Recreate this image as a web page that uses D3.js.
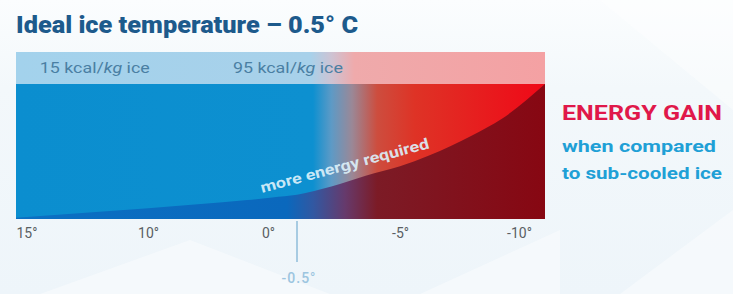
<!DOCTYPE html>
<html>
<head>
<meta charset="utf-8">
<script src="https://cdn.jsdelivr.net/npm/d3@7"></script>
<style>
  html, body { margin: 0; padding: 0; background: #f3f8fc; }
  svg { display: block; }
</style>
</head>
<body>
<script>
// ---------- data ----------
const titleText = "Ideal ice temperature – 0.5° C";
const tickTemps = [15, 10, 0, -5, -10];
const tickLabels = ["15°", "10°", "0°", "-5°", "-10°"];
const idealTemp = -0.5;
const idealLabel = "-0.5°";
const energyLabels = ["15 kcal/", "95 kcal/"];
const energyLabelTemps = [14.1, 3.15];
// "energy required" curve (share of bar height, %) by temperature
const curveTemps = [15, 10, 2, 0, -0.5, -2, -3.5, -5, -6, -7.5, -8.5, -10];
const curveEnergy = [1, 8, 14, 16, 18, 24, 32, 39, 47, 62, 74, 100];
const sideTitle = "ENERGY GAIN";
const sideLines = ["when compared", "to sub-cooled ice"];
const curveLabel = "more energy required";

// ---------- layout ----------
const W = 733, H = 294;
const left = 16, right = 545;
const bandTop = 52, bodyTop = 84, bodyBottom = 219;

const x = d3.scaleLinear()
  .domain([15, 10, 0, -0.5, -5, -10])
  .range([left, 148, 272, 297, 400, right]);
const y = d3.scaleLinear().domain([0, 100]).range([bodyBottom, bodyTop]);

const svg = d3.select("body").append("svg").attr("width", W).attr("height", H);
const defs = svg.append("defs");

// background
const bg = defs.append("linearGradient").attr("id", "bgGrad")
  .attr("x1", 0).attr("x2", 0).attr("y1", 0).attr("y2", 1);
bg.append("stop").attr("offset", 0).attr("stop-color", "#fbfdfe");
bg.append("stop").attr("offset", 0.3).attr("stop-color", "#f3f8fb");
bg.append("stop").attr("offset", 1).attr("stop-color", "#eef5fa");
svg.append("rect").attr("width", W).attr("height", H).attr("fill", "url(#bgGrad)");
const bgShapes = [
  [[600, 0], [733, 0], [733, 110]],
  [[40, 294], [190, 240], [330, 294]],
  [[420, 294], [560, 230], [560, 294]],
  [[620, 294], [733, 210], [733, 294]]
];
svg.selectAll("polygon.bg").data(bgShapes).join("polygon")
  .attr("class", "bg")
  .attr("points", d => d.map(p => p.join(",")).join(" "))
  .attr("fill", "#ffffff").attr("opacity", 0.4);

function grad(id, stops) {
  const g = defs.append("linearGradient").attr("id", id)
    .attr("gradientUnits", "userSpaceOnUse")
    .attr("x1", left).attr("x2", right).attr("y1", 0).attr("y2", 0);
  g.selectAll("stop").data(stops).join("stop")
    .attr("offset", d => (x(d[0]) - left) / (right - left))
    .attr("stop-color", d => d[1]);
}
grad("bandGrad", [[15, "#a3d2ec"], [-1.1, "#a8d1ea"], [-2.0, "#cdc3d3"], [-3.0, "#efaaab"], [-10, "#f4a1a3"]]);
grad("topGrad", [[15, "#0b8ecf"], [-1.2, "#0d90d0"], [-2.0, "#5d9ac6"], [-2.9, "#9a8897"], [-4.0, "#cd4d3e"], [-5.5, "#de3326"], [-10, "#f00817"]]);
grad("lowGrad", [[15, "#0b70c3"], [-0.3, "#0a68bd"], [-1.2, "#3158a2"], [-2.6, "#663a6c"], [-4.0, "#7c1b26"], [-10, "#870712"]]);

// band
svg.append("rect").attr("x", left).attr("y", bandTop)
  .attr("width", right - left).attr("height", bodyTop - bandTop)
  .attr("fill", "url(#bandGrad)");
// body
svg.append("rect").attr("x", left).attr("y", bodyTop)
  .attr("width", right - left).attr("height", bodyBottom - bodyTop)
  .attr("fill", "url(#topGrad)");

const pts = curveTemps.map((t, i) => [t, curveEnergy[i]]);
const area = d3.area()
  .x(d => x(d[0])).y0(bodyBottom).y1(d => y(d[1]))
  .curve(d3.curveMonotoneX);
svg.append("path").datum(pts).attr("d", area).attr("fill", "url(#lowGrad)");

// curve label
const a0 = [262, 193], a1 = [430, 148];
const ang = Math.atan2(a1[1] - a0[1], a1[0] - a0[0]) * 180 / Math.PI;
svg.append("text")
  .attr("transform", `translate(${a0[0]},${a0[1]}) rotate(${ang})`)
  .attr("font-family", "Roboto, sans-serif").attr("font-weight", 700)
  .attr("font-size", 15)
  .attr("textLength", Math.hypot(a1[0] - a0[0], a1[1] - a0[1]))
  .attr("lengthAdjust", "spacingAndGlyphs")
  .attr("fill", "#dcf0fa").attr("fill-opacity", 0.92)
  .text(curveLabel);

// band labels
energyLabels.forEach((lab, i) => {
  const t = svg.append("text")
    .attr("x", x(energyLabelTemps[i])).attr("y", 73)
    .attr("font-family", "Roboto, sans-serif").attr("font-size", 14)
    .attr("fill", "#4a7fa3")
    .attr("textLength", 110).attr("lengthAdjust", "spacingAndGlyphs");
  t.append("tspan").text(lab);
  t.append("tspan").attr("font-style", "italic").text("kg");
  t.append("tspan").text(" ice");
});

// title
svg.append("text").attr("x", 16).attr("y", 33)
  .attr("font-family", "Roboto, sans-serif").attr("font-weight", 900)
  .attr("font-size", 24).attr("fill", "#1d5a8c")
  .attr("textLength", 342).attr("lengthAdjust", "spacingAndGlyphs")
  .text(titleText);

// axis
const axis = d3.axisBottom(x).tickValues(tickTemps)
  .tickFormat((d, i) => tickLabels[i]).tickSize(0).tickPadding(0);
const gAxis = svg.append("g").attr("transform", `translate(0,${bodyBottom + 9})`).call(axis);
gAxis.select(".domain").remove();
gAxis.selectAll("text")
  .attr("font-family", "Roboto, sans-serif").attr("font-size", 14)
  .attr("fill", "#5a5f63").attr("dy", "0.71em")
  .attr("text-anchor", (d, i) => i === 0 ? "start" : "middle")
  .attr("dx", (d, i) => i === 0 ? 0 : (i === 4 ? -26 : (i === 2 ? -4 : 0)));

// ideal marker
svg.append("line")
  .attr("x1", x(idealTemp)).attr("x2", x(idealTemp))
  .attr("y1", bodyBottom + 2).attr("y2", 262)
  .attr("stroke", "#a7cbe2").attr("stroke-width", 2);
svg.append("text").attr("x", x(idealTemp) + 2).attr("y", 283)
  .attr("text-anchor", "middle")
  .attr("font-family", "Roboto, sans-serif").attr("font-size", 14)
  .attr("font-weight", 500).attr("letter-spacing", 1)
  .attr("fill", "#9cc5e0").text(idealLabel);

// side text
svg.append("text").attr("x", 562).attr("y", 120)
  .attr("font-family", "Roboto, sans-serif").attr("font-weight", 700)
  .attr("font-size", 20).attr("fill", "#e0184a")
  .attr("textLength", 160).attr("lengthAdjust", "spacingAndGlyphs")
  .text(sideTitle);
svg.selectAll("text.side").data(sideLines).join("text")
  .attr("class", "side")
  .attr("x", 562).attr("y", (d, i) => 152 + i * 27)
  .attr("font-family", "Roboto, sans-serif").attr("font-weight", 700)
  .attr("font-size", 16).attr("fill", "#1fa0d6")
  .attr("textLength", (d, i) => i === 0 ? 154 : 160)
  .attr("lengthAdjust", "spacingAndGlyphs")
  .text(d => d);
</script>
</body>
</html>
